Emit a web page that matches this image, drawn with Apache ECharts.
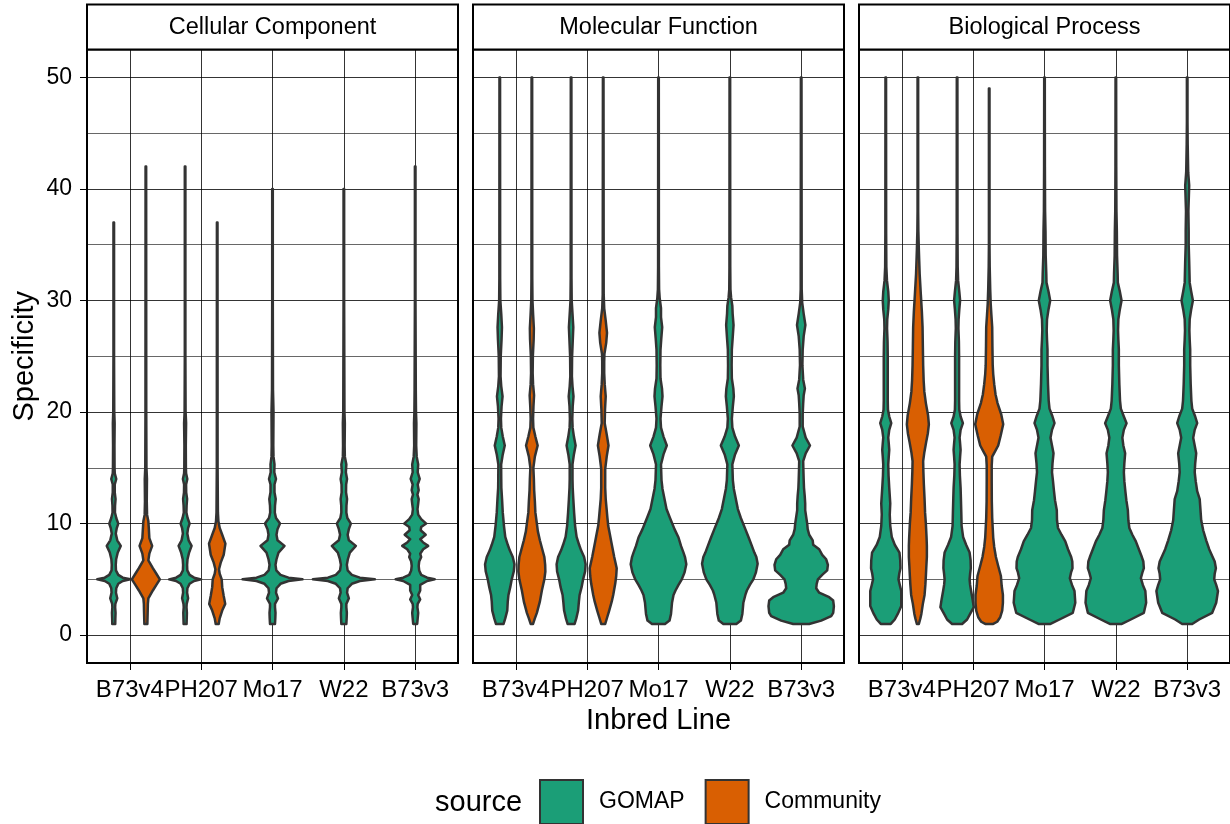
<!DOCTYPE html>
<html><head><meta charset="utf-8">
<script src="https://cdn.jsdelivr.net/npm/echarts@6/dist/echarts.min.js"></script>
<style>html,body{margin:0;padding:0;background:#fff}#c{width:1230px;height:824px}</style>
</head><body><div id="c"></div>
<script>
const categories = ['B73v4', 'PH207', 'Mo17', 'W22', 'B73v3'];
const panels = ['Cellular Component', 'Molecular Function', 'Biological Process'];
const sources = ['GOMAP', 'Community'];
const sourceColors = ['#1B9E77', '#D95F02'];
const yTicks = [0, 10, 20, 30, 40, 50];
const yMinorTicks = [5, 15, 25, 35, 45];
const xTicks = [1, 2, 3, 4, 5];

// Violin profiles: [Specificity, density half-width]
const cc_B73v4_G = [[1,1.5],[1.5,1.6],[2,1.8],[2.5,1.4],[2.8,1.6],[3.3,3.5],[3.8,2.2],[4.2,2.5],[4.6,4.5],[4.85,9],[5,16.5],[5.15,9],[5.4,4.5],[5.8,2.2],[6.3,2],[6.8,2.4],[7.4,4],[8,7],[8.5,3.5],[9.1,2],[9.6,3],[10,4.5],[10.5,2.5],[11,1.2],[11.6,1.3],[12.2,1.8],[12.8,1],[13.5,1],[14,2.5],[14.5,1],[15,0.8],[17,0.7],[19,0.9],[20,0.5],[25,0.3],[37,0.3]];
const cc_B73v4_C = [[1,1.5],[2,1.8],[2.8,2],[3.3,2.5],[4,7],[4.5,10.5],[5,14],[5.5,10.5],[6,7],[6.7,2.5],[7.3,3.5],[8,6.3],[8.7,3.5],[9.5,3],[10.2,2.5],[10.8,1.2],[12,0.9],[14,1.1],[15,0.6],[20,0.4],[42,0.3]];
const cc_PH207_G = [[1,1.5],[2,1.8],[2.5,1.4],[2.8,1.6],[3.3,3],[3.8,2],[4.2,2.3],[4.6,4.5],[4.85,9],[5,16],[5.15,9],[5.4,4.5],[5.8,2.2],[6.3,2],[6.8,2.4],[7.4,4],[8,6.5],[8.5,3.5],[9.1,2.2],[9.6,3],[10,4.5],[10.5,2.5],[11,1.3],[11.6,1.5],[12.2,2],[12.8,1.1],[13.5,1],[14,2.2],[14.5,1],[15,0.8],[17,0.7],[19,1],[20,0.5],[25,0.3],[42,0.3]];
const cc_PH207_C = [[1,1.5],[1.5,2.5],[2.2,5],[2.8,8],[3.5,6.5],[4.3,5],[5,4.5],[5.5,2.5],[5.9,1.8],[6.5,3.5],[7.2,6.5],[8.2,8.2],[9,5],[9.6,2.5],[10.2,1.2],[11,0.7],[15,0.4],[37,0.3]];
const cc_Mo17_G = [[1,2.5],[1.5,2.8],[2,3],[2.5,2.5],[2.8,2.5],[3.3,5.5],[3.8,3.5],[4.2,4],[4.6,8],[4.85,16],[5,30],[5.15,16],[5.4,8],[5.8,3.8],[6.3,3],[6.8,4],[7.4,6],[8,12],[8.5,5],[9,4],[9.5,5],[10,7.5],[10.5,3.5],[11,2.3],[11.6,2.5],[12.2,3.2],[12.8,2],[13.5,2],[14,3.5],[14.6,1.8],[15.3,2],[16,1],[17,0.8],[20,1],[22,0.5],[30,0.3],[40,0.3]];
const cc_W22_G = [[1,2.5],[1.5,2.8],[2,3],[2.5,2.5],[2.8,2.5],[3.3,5],[3.8,3.2],[4.2,3.8],[4.6,8],[4.85,16],[5,31],[5.15,16],[5.4,8],[5.8,3.8],[6.3,3],[6.8,4],[7.4,6],[8,12],[8.5,5],[9,3.8],[9.5,5],[10,7],[10.5,3.5],[11,2.5],[11.6,2.6],[12.2,3.2],[12.8,2.2],[13.5,2.3],[14,3.2],[14.6,2],[15.3,2.5],[16,1],[17,0.8],[19,1],[20,0.6],[30,0.3],[40,0.3]];
const cc_B73v3_G = [[1,2],[1.5,2.5],[2,3],[2.5,2.2],[2.8,2.5],[3.2,5],[3.6,3],[4,5],[4.5,5],[4.85,12],[5,19.5],[5.15,12],[5.4,6],[5.8,4],[6.2,3.5],[6.6,4],[7,6],[7.3,5],[7.7,8],[8,13],[8.3,8],[8.6,5],[9,10.5],[9.4,5.5],[9.7,6],[10,11],[10.4,6],[10.8,3],[11.3,2.3],[11.8,3],[12.2,3.5],[12.6,2.2],[13,3.5],[13.5,2.5],[14,4.5],[14.6,2.5],[15.3,3],[16,1.5],[17,1],[19,1.2],[20,0.8],[22,0.6],[30,0.3],[42,0.3]];

const mf_B73v4_G = [[1,3.8],[1.5,5.5],[2.2,7.5],[3,8],[3.6,8.7],[4.3,10.5],[5,12],[5.7,14],[6.35,14.7],[7,13],[7.6,10],[8.1,8],[8.8,5.5],[9.8,4.2],[11,3],[12.2,2.3],[13.2,1.6],[14,1.5],[15.3,1.4],[16.2,3],[17,5],[17.8,3],[18.6,1.5],[19.4,1.2],[20.5,1.8],[21.4,2.8],[22.3,1.5],[23.2,0.8],[25,1],[26.5,1.8],[27.6,2.2],[28.8,1.5],[30,0.6],[32,0.4],[50,0.3]];
const mf_B73v4_C = [[1,1.2],[1.5,3],[2,5],[3,8],[4,10],[5,12.5],[5.7,13.5],[6.3,13.3],[7,12.5],[7.5,11],[8.5,8],[9.3,6],[10,5],[11,3.5],[12,3],[13,2.3],[14,2],[15,1.5],[16,3],[17,5.8],[17.8,3.5],[18.6,1.5],[19.4,1.2],[20.5,1.6],[21.5,2.2],[22.5,1.2],[23.5,0.8],[25,1],[26.5,1.8],[27.5,2],[28.7,1.3],[30,0.6],[32,0.4],[50,0.3]];
const mf_PH207_G = [[1,3.5],[1.5,5.2],[2.2,7],[3,7.8],[3.6,8.5],[4.3,10.5],[5,12],[5.7,14],[6.35,14.5],[7,13],[7.6,10],[8.1,8],[8.8,5.5],[9.8,4],[11,3],[12.2,2.2],[13.2,1.6],[14,1.4],[15.3,1.4],[16.2,2.8],[17,4.5],[17.8,2.8],[18.6,1.5],[19.4,1.2],[20.5,1.6],[21.4,2.4],[22.3,1.4],[23.2,0.8],[25,1],[26.5,1.7],[27.6,2.2],[28.8,1.4],[30,0.6],[32,0.4],[50,0.3]];
const mf_PH207_C = [[1,2],[1.6,4],[2.2,6],[3,8.5],[3.6,10],[4.6,12],[5.3,13],[6,13.5],[7,11],[7.7,9.5],[8.4,8],[9.1,6.5],[9.8,5],[10.5,4.2],[11.2,3.5],[12.2,2.5],[13.2,2],[14.9,2],[16,3.5],[17,5.3],[18,3.5],[19,1.5],[20.2,1.8],[21.4,2.5],[22.5,1.5],[23.5,1],[24.5,1],[25.2,1.2],[26.2,3],[27.1,3.8],[28.2,2.5],[29.3,1],[30.5,0.5],[50,0.3]];
const mf_Mo17_G = [[1,6.5],[1.3,11],[1.9,12.5],[2.9,13.5],[3.6,15],[4,17],[4.5,20],[5,23.3],[5.6,26],[6.35,27.8],[7,26.5],[7.4,25],[8,22.5],[8.75,20],[9.5,16],[10.5,11.5],[11.3,8],[12.2,6],[13.1,4],[13.9,3],[15.3,2.5],[16.2,5],[17,8.3],[17.8,5],[18.6,2.5],[19.4,2],[20.5,3],[21.4,4],[22.1,3.5],[23,2],[24.2,1.8],[25.6,2],[26.6,2.8],[27.6,3.7],[28.5,2.5],[29.3,2.5],[30.2,1.2],[31,0.6],[33,0.4],[50,0.3]];
const mf_W22_G = [[1,6.5],[1.3,11],[1.9,12.5],[2.9,13.5],[3.6,15.5],[4,17],[4.5,20],[5,23.5],[5.6,26],[6.4,27.8],[7,26.5],[7.4,24.5],[8,22],[8.7,19],[9.5,15.5],[10.5,11],[11.3,8],[12.2,6],[13.1,4],[13.9,3],[15.3,2.5],[16.2,5.2],[17,9],[17.8,5.2],[18.6,2.5],[19.4,2],[20.5,3],[21.4,4],[22.1,3.5],[23,2],[24.2,1.8],[25.6,2],[26.6,2.8],[27.8,3.7],[28.8,2.8],[29.5,2.5],[30.3,1.2],[31,0.6],[33,0.4],[50,0.3]];
const mf_B73v3_G = [[1,8],[1.3,20],[1.7,30],[2,32],[2.6,32.7],[3.1,32],[3.4,28],[3.8,18],[4.2,15],[4.6,15.5],[5,16.7],[5.4,21],[5.8,26],[6.3,26.7],[6.8,25],[7.2,21],[7.7,18],[8.1,12],[8.5,11.5],[9,8],[9.5,6.5],[10,6],[10.6,5],[11.2,4],[11.8,4],[12.5,3.5],[13.2,2.8],[13.9,2.5],[14.8,2.2],[15.6,2],[16.3,4.5],[17,8.8],[17.7,4.5],[18.7,1.5],[19.8,1.5],[20.8,2],[21.5,2.5],[22.1,3.7],[22.9,2],[24.2,1.2],[25.6,1.5],[26.8,2.5],[27.8,4.2],[28.8,2.5],[29.8,1],[31,0.5],[50,0.3]];

const bp_B73v4_G = [[1,5],[1.4,9],[1.9,12],[2.6,15.5],[3.3,15.5],[3.95,15.5],[4.5,14],[5,12.7],[5.5,13.5],[6,14.7],[6.7,14.5],[7.4,13.7],[8.1,9],[8.8,6],[9.8,4.5],[10.8,4],[11.8,4.5],[12.5,4],[13.2,3.5],[14.3,2.8],[15.3,2.5],[16,3],[16.6,3.5],[17.2,3],[17.7,2.5],[18.4,3.5],[19,5.5],[19.6,3.5],[20.2,2.2],[21,2],[23,2],[25,2],[26.3,1.8],[27.5,1.3],[28.3,1.5],[29.2,2.5],[30,3],[30.8,2.5],[31.8,1.2],[33,0.6],[36,0.4],[50,0.3]];
const bp_B73v4_C = [[1,1],[1.5,2.5],[1.9,3.5],[2.8,5],[3.6,6.7],[4.5,7.5],[5.3,8],[6.2,8.5],[7,9],[8,9],[8.75,8.7],[10,8],[11,7.2],[12.2,6.7],[13.5,6],[14.7,5.5],[15.6,5.3],[16.4,6.5],[17.3,8.3],[18.1,10],[18.9,11],[19.7,10.2],[20.8,8],[21.8,6.5],[22.8,5.8],[24.2,5.3],[25.8,5],[27.6,4.7],[29,4],[30.5,3],[32.4,1.8],[34.5,1],[36.2,0.5],[38,0.3],[50,0.3]];
const bp_PH207_G = [[1,5],[1.4,10],[1.9,13],[2.5,16.7],[3.2,15.5],[3.95,14],[4.5,13],[5,12.5],[5.5,13],[6,13.7],[6.7,13.5],[7.4,12.5],[8.1,9],[8.8,6],[9.8,4.5],[11,4.2],[12.3,3.8],[13.2,3.5],[14.3,2.8],[15.3,2.5],[16,3],[16.6,3.5],[17.2,3],[17.7,2.5],[18.4,3.5],[19,5.8],[19.6,3.5],[20.2,2.2],[21,2],[23,2],[25,2],[26.3,1.8],[27.5,1.3],[28.3,1.5],[29.2,2.2],[30,3],[30.8,2.2],[31.8,1],[33,0.6],[36,0.4],[50,0.3]];
const bp_PH207_C = [[1,4],[1.2,8],[1.6,11],[2.2,13],[2.9,13.7],[3.6,13.7],[4.4,12.5],[5.3,11.7],[6.2,9],[7,6.7],[7.9,5],[8.75,4],[10.5,3],[12,2.6],[13.9,2.5],[15.2,2.5],[16,3],[16.5,6],[17,9],[17.9,11.5],[18.9,14],[19.8,12],[20.8,8.3],[21.6,6.3],[22.5,5],[23.4,4],[24.2,3.5],[25.9,3.2],[27.6,3],[28.7,2.2],[29.7,1.5],[31,1],[33,0.5],[35,0.3],[49,0.3]];
const bp_Mo17_G = [[1,6],[1.4,15],[2,28.3],[2.9,30.8],[3.95,30],[4.5,27.5],[5.1,25.3],[5.6,26.5],[6,28],[6.6,27.8],[7,26.7],[7.7,23.5],[8.4,20.8],[9,17],[9.6,13.5],[10.3,12.5],[11.2,12.3],[12.1,10.5],[12.9,9.5],[13.8,8.5],[14.6,7.5],[15.4,8],[16.3,9],[17,7.5],[17.7,6],[18.4,7.5],[19,10],[19.6,8],[20.3,5],[21,4.2],[21.4,4],[22.5,3.5],[24.2,3],[25.6,3],[26.5,2.5],[27.3,2.2],[28.3,2.5],[29.2,4],[30,5.7],[30.8,4],[31.6,2],[32.4,1.8],[34,1.2],[36.2,1],[38,0.6],[42,0.4],[50,0.3]];
const bp_W22_G = [[1,6],[1.4,15],[2,28],[2.9,30.3],[3.95,29.5],[4.5,27],[5.1,25],[5.6,26.5],[6,28],[6.6,27.5],[7,26],[7.7,23],[8.4,20],[9,16.5],[9.6,13.5],[10.3,12.5],[11.2,12],[12.1,10.5],[12.9,9.5],[13.8,8.5],[14.6,8],[15.4,8.5],[16.3,9.3],[17,7.5],[17.7,6.5],[18.4,8],[19,10.7],[19.6,8],[20.3,5],[21,4.2],[21.4,4],[22.5,3.5],[24.2,3],[25.6,3],[26.5,2.5],[27.3,2.2],[28.3,2.5],[29.2,4],[30,5.7],[30.8,4],[31.6,2],[32.4,1.8],[34,1.2],[36.2,1],[38,0.6],[42,0.4],[50,0.3]];
const bp_B73v3_G = [[1,5],[1.4,12],[2,25],[2.9,29],[3.95,30.8],[4.5,29],[5,27],[5.5,27.5],[6,28.7],[6.6,27.5],[7.1,25],[7.7,22],[8.5,19],[9.4,16],[10.3,14],[11.2,13.3],[12.2,12.5],[12.9,10],[13.8,8.5],[14.6,7.5],[15.4,8],[16.3,9],[17,7.5],[17.7,6],[18.4,7.5],[19,10],[19.6,8],[20.3,5],[21,4.2],[21.4,4],[22.5,3.5],[24.2,3],[25.6,3],[26.5,2.5],[27.3,2.2],[28.3,2.5],[29.2,4],[30,5.7],[30.8,4],[31.6,2.5],[33.5,2],[35,1.5],[36.2,1.5],[38,1.2],[40.3,2],[41.5,1],[44,0.5],[46,0.3],[50,0.3]];

// [panel, category, source, profile]
const violins = [
  [0,0,0,cc_B73v4_G],[0,0,1,cc_B73v4_C],[0,1,0,cc_PH207_G],[0,1,1,cc_PH207_C],[0,2,0,cc_Mo17_G],[0,3,0,cc_W22_G],[0,4,0,cc_B73v3_G],
  [1,0,0,mf_B73v4_G],[1,0,1,mf_B73v4_C],[1,1,0,mf_PH207_G],[1,1,1,mf_PH207_C],[1,2,0,mf_Mo17_G],[1,3,0,mf_W22_G],[1,4,0,mf_B73v3_G],
  [2,0,0,bp_B73v4_G],[2,0,1,bp_B73v4_C],[2,1,0,bp_PH207_G],[2,1,1,bp_PH207_C],[2,2,0,bp_Mo17_G],[2,3,0,bp_W22_G],[2,4,0,bp_B73v3_G]
];

const DENSITY_TO_X = 1 / 71.35;   // density half-width -> category units
const DODGE = 0.225;

const chart = echarts.init(document.getElementById('c'), null, {renderer: 'canvas'});
const FONT = 'Liberation Sans, Arial, Helvetica, sans-serif';
const gridLeft = [87, 473, 859];
const gridW = 371, gridTop = 49.5, gridH = 613.5;

const grids = [], xAxes = [], yAxes = [], series = [], graphics = [];
for (let p = 0; p < 3; p++) {
  grids.push({left: gridLeft[p], top: gridTop, width: gridW, height: gridH, show: true,
    borderColor: '#000', borderWidth: 2, backgroundColor: 'rgba(0,0,0,0)', containLabel: false});
  xAxes.push({type: 'value', gridIndex: p, min: 0.4, max: 5.6,
    name: p === 1 ? 'Inbred Line' : '', nameLocation: 'middle', nameGap: 40,
    nameTextStyle: {fontSize: 29, color: '#000', fontFamily: FONT},
    axisLine: {show: false, onZero: false},
    axisTick: {show: true, customValues: xTicks, length: 7, lineStyle: {color: '#000', width: 1}},
    axisLabel: {customValues: xTicks, formatter: v => categories[Math.round(v) - 1], fontSize: 24, color: '#000', margin: 15, fontFamily: FONT},
    splitLine: {show: true, lineStyle: {color: '#000', width: 0.8}}
  });
  yAxes.push({type: 'value', gridIndex: p, min: -2.5, max: 52.5,
    name: p === 0 ? 'Specificity' : '', nameLocation: 'middle', nameGap: 48,
    nameTextStyle: {fontSize: 29, color: '#000', fontFamily: FONT},
    axisLine: {show: false, onZero: false},
    axisTick: {show: p === 0, customValues: yTicks, length: 7, lineStyle: {color: '#000', width: 1}},
    axisLabel: {show: p === 0, customValues: yTicks, fontSize: 23, color: '#000', margin: 15, fontFamily: FONT},
    splitLine: {show: true, lineStyle: {color: '#000', width: 0.8}}
  });
  yAxes.push({type: 'value', gridIndex: p, min: -2.5, max: 52.5, position: 'left',
    axisLine: {show: false, onZero: false},
    axisTick: {show: false, customValues: yMinorTicks},
    axisLabel: {show: false, customValues: yMinorTicks},
    splitLine: {show: true, lineStyle: {color: '#000', width: 0.6}}
  });
  graphics.push({type: 'rect', shape: {x: gridLeft[p], y: 4.5, width: gridW, height: 45},
    style: {fill: '#fff', stroke: '#000', lineWidth: 2}, z: 10});
  graphics.push({type: 'text', x: gridLeft[p] + gridW / 2, y: 28,
    style: {text: panels[p], fontSize: 23.5, fill: '#000', fontFamily: FONT, align: 'center', verticalAlign: 'middle'}, z: 11});

  for (let s = 0; s < 2; s++) {
    const data = [];
    violins.forEach((v, idx) => {
      if (v[0] !== p || v[2] !== s) return;
      const both = violins.some(o => o[0] === p && o[1] === v[1] && o[2] !== s);
      const xc = v[1] + 1 + (both ? (s === 0 ? -DODGE : DODGE) : 0);
      const prof = v[3];
      data.push([xc, prof[0][0], prof[prof.length - 1][0], idx]);
    });
    series.push({
      type: 'custom', name: sources[s], xAxisIndex: p, yAxisIndex: 2 * p,
      coordinateSystem: 'cartesian2d', z: 5,
      itemStyle: {color: sourceColors[s]},
      encode: {x: 0, y: [1, 2]},
      data: data,
      renderItem: function (params, api) {
        const xc = api.value(0);
        const prof = violins[api.value(3)][3];
        const pts = [];
        for (let i = 0; i < prof.length; i++) pts.push(api.coord([xc + prof[i][1] * DENSITY_TO_X, prof[i][0]]));
        for (let i = prof.length - 1; i >= 0; i--) pts.push(api.coord([xc - prof[i][1] * DENSITY_TO_X, prof[i][0]]));
        return {type: 'polygon', shape: {points: pts},
          style: {fill: sourceColors[s], stroke: '#333333', lineWidth: 2.5, lineJoin: 'round'}};
      }
    });
  }
}

chart.setOption({
  animation: false,
  backgroundColor: '#fff',
  textStyle: {fontFamily: FONT},
  title: {text: 'source', left: 435, top: 788, padding: 0,
    textStyle: {fontSize: 29, fontWeight: 'normal', color: '#000', fontFamily: FONT}},
  legend: {data: [{name: 'GOMAP', itemStyle: {color: sourceColors[0]}}, {name: 'Community', itemStyle: {color: sourceColors[1]}}],
    left: 539, top: 779, padding: 0, itemWidth: 43, itemHeight: 44, itemGap: 20, icon: 'rect', selectedMode: false,
    itemStyle: {borderColor: '#333333', borderWidth: 2},
    textStyle: {fontSize: 23, color: '#000', fontFamily: FONT, padding: [0, 0, 0, 11]}},
  grid: grids, xAxis: xAxes, yAxis: yAxes, series: series, graphic: graphics
});
</script></body></html>
